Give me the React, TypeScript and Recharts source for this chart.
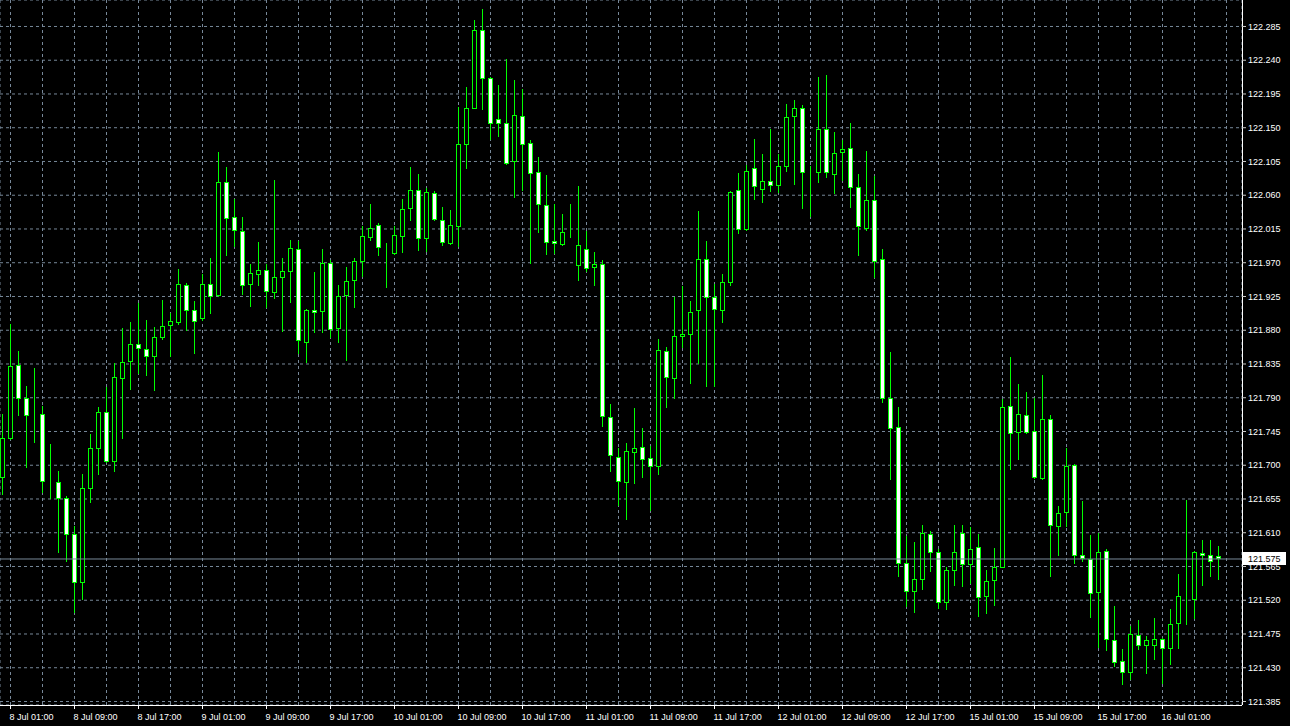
import { ComposedChart, Bar, XAxis, YAxis, CartesianGrid, ReferenceLine } from 'recharts';

// hourly bars, 8 Jul 00:00 -> 16 Jul 08:00
const opens = [
  121.684, 121.736, 121.833, 121.789, 121.766, 121.767, 121.677, 121.677, 121.656, 121.608,
  121.543, 121.669, 121.722, 121.770, 121.705, 121.816, 121.838, 121.861, 121.854, 121.845,
  121.870, 121.886, 121.890, 121.940, 121.906, 121.895, 121.941, 121.926, 122.077, 122.030,
  122.012, 121.941, 121.954, 121.960, 121.930, 121.950, 121.958, 121.988, 121.864, 121.906,
  121.905, 121.969, 121.882, 121.926, 121.946, 121.972, 122.004, 122.020, 121.980, 121.982,
  122.005, 122.042, 122.066, 122.002, 122.062, 122.026, 121.995, 122.018, 122.128, 122.176,
  122.280, 122.216, 122.161, 122.156, 122.105, 122.165, 122.129, 122.090, 122.046, 121.998,
  121.994, 122.006, 121.966, 121.987, 121.963, 121.968, 121.764, 121.710, 121.677, 121.717,
  121.724, 121.709, 121.698, 121.852, 121.816, 121.872, 121.874, 121.906, 121.974, 121.924,
  121.906, 121.944, 122.066, 122.014, 122.096, 122.068, 122.078, 122.073, 122.098, 122.165,
  122.175, 122.091, 122.090, 122.147, 122.088, 122.117, 122.122, 122.070, 122.015, 122.053,
  121.974, 121.789, 121.750, 121.569, 121.532, 121.548, 121.608, 121.584, 121.517, 121.559,
  121.609, 121.568, 121.590, 121.525, 121.546, 121.564, 121.778, 121.744, 121.766, 121.745,
  121.682, 121.761, 121.618, 121.637, 121.700, 121.580, 121.574, 121.530, 121.585, 121.466,
  121.438, 121.424, 121.473, 121.460, 121.460, 121.468, 121.456, 121.489, 121.523, 121.521,
  121.582, 121.580, 121.578,
];

const highs = [
  121.768, 121.887, 121.852, 121.805, 121.829, 121.778, 121.727, 121.691, 121.658, 121.618,
  121.688, 121.741, 121.777, 121.804, 121.836, 121.882, 121.890, 121.915, 121.893, 121.884,
  121.919, 121.902, 121.961, 121.942, 121.918, 121.954, 121.975, 122.117, 122.097, 122.054,
  122.030, 121.968, 121.997, 121.968, 122.080, 121.976, 122.000, 121.998, 121.908, 121.957,
  121.987, 121.973, 121.940, 121.964, 121.975, 122.018, 122.047, 122.022, 121.996, 122.018,
  122.054, 122.097, 122.087, 122.069, 122.065, 122.044, 122.040, 122.177, 122.204, 122.293,
  122.308, 122.217, 122.206, 122.241, 122.213, 122.201, 122.133, 122.110, 122.086, 122.047,
  122.034, 122.048, 122.072, 122.012, 121.984, 121.973, 121.781, 121.722, 121.729, 121.775,
  121.749, 121.725, 121.867, 121.857, 121.923, 121.938, 121.918, 122.038, 121.998, 121.941,
  121.954, 122.065, 122.089, 122.100, 122.134, 122.114, 122.148, 122.114, 122.181, 122.186,
  122.179, 122.098, 122.217, 122.220, 122.143, 122.133, 122.155, 122.087, 122.118, 122.085,
  121.987, 121.850, 121.777, 121.605, 121.597, 121.619, 121.612, 121.587, 121.564, 121.620,
  121.620, 121.617, 121.608, 121.559, 121.589, 121.788, 121.843, 121.807, 121.797, 121.789,
  121.819, 121.766, 121.645, 121.722, 121.701, 121.652, 121.606, 121.609, 121.588, 121.512,
  121.454, 121.485, 121.493, 121.472, 121.496, 121.469, 121.508, 121.554, 121.653, 121.585,
  121.599, 121.600, 121.592,
];

const lows = [
  121.661, 121.734, 121.766, 121.697, 121.730, 121.663, 121.656, 121.583, 121.571, 121.503,
  121.521, 121.650, 121.688, 121.704, 121.692, 121.736, 121.801, 121.822, 121.820, 121.800,
  121.868, 121.845, 121.887, 121.880, 121.849, 121.893, 121.902, 121.925, 121.980, 121.992,
  121.927, 121.911, 121.939, 121.910, 121.922, 121.878, 121.917, 121.849, 121.837, 121.877,
  121.877, 121.870, 121.864, 121.839, 121.910, 121.952, 122.000, 121.980, 121.937, 121.981,
  121.984, 122.026, 121.986, 121.985, 122.026, 121.993, 121.994, 121.991, 122.095, 122.175,
  122.174, 122.134, 122.138, 122.101, 122.057, 122.066, 121.969, 122.010, 121.981, 121.982,
  121.993, 122.003, 121.946, 121.958, 121.940, 121.751, 121.691, 121.646, 121.628, 121.676,
  121.683, 121.639, 121.687, 121.777, 121.789, 121.857, 121.809, 121.836, 121.805, 121.805,
  121.890, 121.940, 122.009, 122.013, 122.054, 122.050, 122.065, 122.064, 122.092, 122.074,
  122.042, 122.032, 122.077, 122.083, 122.062, 122.079, 122.044, 121.980, 122.013, 121.950,
  121.784, 121.681, 121.551, 121.512, 121.504, 121.534, 121.558, 121.509, 121.508, 121.539,
  121.538, 121.542, 121.498, 121.502, 121.513, 121.563, 121.694, 121.708, 121.742, 121.682,
  121.681, 121.551, 121.579, 121.618, 121.569, 121.571, 121.497, 121.457, 121.453, 121.432,
  121.408, 121.414, 121.454, 121.422, 121.441, 121.409, 121.434, 121.456, 121.488, 121.496,
  121.539, 121.551, 121.547,
];

const closes = [
  121.736, 121.832, 121.789, 121.766, 121.766, 121.678, 121.677, 121.655, 121.607, 121.543,
  121.669, 121.722, 121.770, 121.705, 121.817, 121.837, 121.861, 121.856, 121.845, 121.870,
  121.885, 121.892, 121.941, 121.906, 121.892, 121.941, 121.925, 122.077, 122.029, 122.013,
  121.940, 121.956, 121.960, 121.932, 121.950, 121.958, 121.989, 121.866, 121.906, 121.904,
  121.969, 121.881, 121.925, 121.945, 121.972, 122.005, 122.016, 121.990, 121.980, 122.006,
  122.041, 122.066, 122.002, 122.064, 122.027, 121.997, 122.020, 122.128, 122.176, 122.280,
  122.216, 122.156, 122.156, 122.102, 122.166, 122.128, 122.089, 122.048, 121.997, 121.996,
  122.010, 122.006, 121.993, 121.962, 121.967, 121.765, 121.713, 121.678, 121.718, 121.722,
  121.708, 121.698, 121.853, 121.817, 121.872, 121.874, 121.904, 121.974, 121.924, 121.908,
  121.944, 122.064, 122.014, 122.092, 122.072, 122.078, 122.073, 122.098, 122.164, 122.176,
  122.090, 122.091, 122.147, 122.090, 122.115, 122.121, 122.070, 122.018, 122.053, 121.972,
  121.789, 121.749, 121.569, 121.532, 121.548, 121.609, 121.584, 121.517, 121.560, 121.584,
  121.568, 121.588, 121.524, 121.545, 121.563, 121.777, 121.742, 121.768, 121.744, 121.684,
  121.761, 121.620, 121.636, 121.698, 121.580, 121.576, 121.529, 121.584, 121.468, 121.437,
  121.424, 121.474, 121.460, 121.466, 121.468, 121.456, 121.488, 121.525, 121.523, 121.584,
  121.580, 121.572, 121.575,
];

const timeLabels = [
  '8 Jul 01:00', '8 Jul 09:00', '8 Jul 17:00', '9 Jul 01:00', '9 Jul 09:00', '9 Jul 17:00',
  '10 Jul 01:00', '10 Jul 09:00', '10 Jul 17:00', '11 Jul 01:00', '11 Jul 09:00', '11 Jul 17:00',
  '12 Jul 01:00', '12 Jul 09:00', '12 Jul 17:00', '15 Jul 01:00', '15 Jul 09:00', '15 Jul 17:00',
  '16 Jul 01:00',
];

const priceTicks = [
  121.385, 121.430, 121.475, 121.520, 121.565, 121.610, 121.655, 121.700, 121.745, 121.790,
  121.835, 121.880, 121.925, 121.970, 122.015, 122.060, 122.105, 122.150, 122.195, 122.240,
  122.285,
];

const bid = 121.575;

const GREEN = '#00ff00';
const GRID = '#778899';
const FONT = '"Liberation Sans", Arial, sans-serif';

const data = opens.map((o, i) => ({
  idx: i,
  open: o,
  high: highs[i],
  low: lows[i],
  close: closes[i],
}));

// grid every 4 bars, labels every 8 bars (first label is the 01:00 bar)
const gridTicks = Array.from({ length: 39 }, (_, k) => 1 + 4 * k);

const Candle = (props: any) => {
  const { x, y, width, height, payload } = props;
  if (x == null || y == null) return null;
  const { open, high, low, close } = payload;
  const top0 = Math.min(y, y + height);
  const ppu = Math.abs(height) / (high - low);
  const py = (v: number) => Math.floor(top0 + (high - v) * ppu) + 0.5;
  const cx = Math.floor(x + width / 2) + 0.5;
  const yO = py(open);
  const yC = py(close);
  const top = Math.min(yO, yC);
  const bot = Math.max(yO, yC);
  return (
    <g>
      <line x1={cx} x2={cx} y1={py(high) - 0.5} y2={py(low) + 0.5} stroke={GREEN} />
      <rect
        x={cx - 2}
        y={top}
        width={4}
        height={bot - top}
        fill={close > open ? '#000' : '#fff'}
        stroke={GREEN}
      />
    </g>
  );
};

const TimeTick = (props: any) => {
  const { x, y, payload } = props;
  const k = (payload.value - 1) / 8;
  if (!Number.isInteger(k) || !timeLabels[k]) return null;
  const cx = Math.floor(x) + 0.5;
  return (
    <g>
      <line x1={cx} x2={cx} y1={y} y2={y + 4} stroke="#ffffff" shapeRendering="crispEdges" />
      <text x={cx - 1} y={y + 14.5} fill="#ffffff" fontSize={9} fontFamily={FONT} textAnchor="start">
        {timeLabels[k]}
      </text>
    </g>
  );
};

const BidLabel = (props: any) => {
  const vb = props.viewBox || {};
  const lx = vb.x + vb.width + 1;
  const ly = Math.floor(vb.y) - 6;
  return (
    <g>
      <rect x={lx} y={ly} width={43} height={13} fill="#ffffff" />
      <text x={lx + 5} y={ly + 10} fill="#000000" fontSize={9} fontFamily={FONT}>
        {bid.toFixed(3)}
      </text>
    </g>
  );
};

export default function App() {
  return (
    <div style={{ position: 'absolute', left: 0, top: 0, width: 1290, height: 726, background: '#000' }}>
      <ComposedChart width={1290} height={726} data={data} margin={{ top: 0, right: 0, bottom: 0, left: 0 }}>
        <CartesianGrid stroke={GRID} strokeDasharray="3 3" />
        <XAxis
          dataKey="idx"
          type="number"
          domain={[-0.3125, 154.9375]}
          allowDataOverflow
          ticks={gridTicks}
          interval={0}
          height={21}
          tickSize={0}
          tickMargin={0}
          tickLine={false}
          axisLine={{ stroke: '#ffffff', shapeRendering: 'crispEdges' }}
          tick={<TimeTick />}
        />
        <YAxis
          orientation="right"
          width={48}
          domain={[121.38033, 122.3203]}
          allowDataOverflow
          ticks={priceTicks}
          interval={0}
          tickSize={4}
          tickMargin={2}
          tickFormatter={(v: number) => v.toFixed(3)}
          tick={{ fill: '#ffffff', fontSize: 9, fontFamily: FONT }}
          tickLine={{ stroke: '#cccccc' }}
          axisLine={{ stroke: '#ffffff', shapeRendering: 'crispEdges' }}
        />
        <ReferenceLine y={bid} stroke={GRID} label={<BidLabel />} />
        <Bar
          dataKey={(d: any) => [d.low, d.high]}
          barSize={5}
          isAnimationActive={false}
          shape={(p: any) => <Candle {...p} />}
        />
      </ComposedChart>
    </div>
  );
}
